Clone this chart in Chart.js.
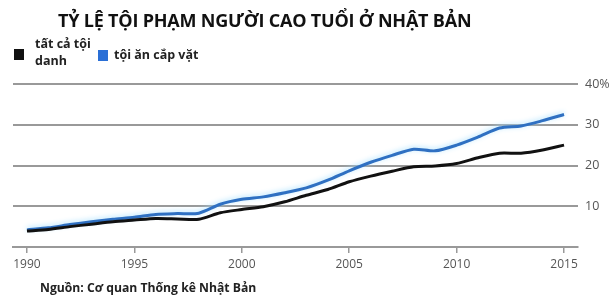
<!DOCTYPE html>
<html><head><meta charset="utf-8">
<script src="https://cdn.jsdelivr.net/npm/chart.js@4/dist/chart.umd.min.js"></script>
<style>
html,body{margin:0;padding:0;background:#fff;}
#wrap{position:relative;width:614px;height:299px;overflow:hidden;font-family:"Open Sans",sans-serif;}
#c{position:absolute;left:0;top:0;}
.title{position:absolute;left:58px;top:11px;font-weight:700;font-size:18px;line-height:18px;color:#111;letter-spacing:-0.2px;white-space:nowrap;}
.lg{position:absolute;font-size:12.5px;font-weight:700;color:#222;line-height:17px;white-space:nowrap;}
.sw{position:absolute;width:10px;height:11px;}
.src{position:absolute;left:40px;top:279px;font-size:12.2px;font-weight:700;color:#222;white-space:nowrap;}
</style></head>
<body><div id="wrap">
<canvas id="c" width="614" height="299"></canvas>
<div class="title">TỶ LỆ TỘI PHẠM NGƯỜI CAO TUỔI Ở NHẬT BẢN</div>
<div class="sw" style="left:14px;top:49px;background:#111;"></div>
<div class="lg" style="left:35px;top:35px;">tất cả tội<br>danh</div>
<div class="sw" style="left:98px;top:50px;background:#2a6fd6;"></div>
<div class="lg" style="left:114px;top:46px;">tội ăn cắp vặt</div>
<div class="src">Nguồn: Cơ quan Thống kê Nhật Bản</div>
</div>
<script>
const years = [1990,1991,1992,1993,1994,1995,1996,1997,1998,1999,2000,2001,2002,2003,2004,2005,2006,2007,2008,2009,2010,2011,2012,2013,2014,2015];
const allCrimes = [3.9,4.3,5.0,5.6,6.2,6.6,7.0,6.9,6.8,8.4,9.2,9.9,11.1,12.7,14.1,16.0,17.4,18.6,19.7,19.9,20.5,21.9,23.0,23.0,23.8,25.0];
const shoplifting = [4.2,4.7,5.5,6.2,6.8,7.3,8.0,8.2,8.3,10.5,11.7,12.3,13.3,14.5,16.4,18.7,20.8,22.5,24.0,23.6,25.0,27.0,29.2,29.7,31.0,32.5];
const xTicks = [1990,1995,2000,2005,2010,2015];
const yTicks = [0,10,20,30,40];
const yTickLabels = ['','10','20','30','40%'];

const glow = {
  id:'glow',
  beforeDatasetDraw(chart,args){
    const ctx = chart.ctx; ctx.save();
    if(args.index===1){ctx.shadowColor='rgba(170,225,255,0.9)';ctx.shadowBlur=5;ctx.shadowOffsetY=-1;}
  },
  afterDatasetDraw(chart){chart.ctx.restore();}
};

new Chart(document.getElementById('c'),{
  type:'line',
  data:{datasets:[
    {label:'tất cả tội danh',data:years.map((y,i)=>({x:y,y:allCrimes[i]})),borderColor:'#111',borderWidth:3,pointRadius:0,tension:0.25},
    {label:'tội ăn cắp vặt',data:years.map((y,i)=>({x:y,y:shoplifting[i]})),borderColor:'#2f70c2',borderWidth:3,pointRadius:0,tension:0.25}
  ]},
  options:{
    responsive:false,animation:false,
    layout:{padding:{left:13,right:0,top:84,bottom:22}},
    plugins:{legend:{display:false},tooltip:{enabled:false}},
    scales:{
      x:{type:'linear',min:1989.35,max:2015.65,
        afterBuildTicks(s){s.ticks=xTicks.map(v=>({value:v}));},
        afterFit(s){s.height=30;},
        border:{display:true,color:'#999',width:2},
        grid:{drawOnChartArea:false,drawTicks:true,tickLength:6,color:'#999',lineWidth:1.5},
        ticks:{padding:4,color:'#555',font:{family:'Open Sans',size:12},callback:v=>String(v)}
      },
      y:{position:'right',min:0,max:40,
        afterBuildTicks(s){s.ticks=yTicks.map(v=>({value:v}));},
        afterFit(s){s.width=36;},
        border:{display:false},
        grid:{drawTicks:false,color:'#999',lineWidth:2},
        ticks:{padding:7,color:'#555',font:{family:'Open Sans',size:12.5},callback:(v)=>yTickLabels[yTicks.indexOf(v)]}
      }
    }
  },
  plugins:[glow]
});
</script>
</body></html>
